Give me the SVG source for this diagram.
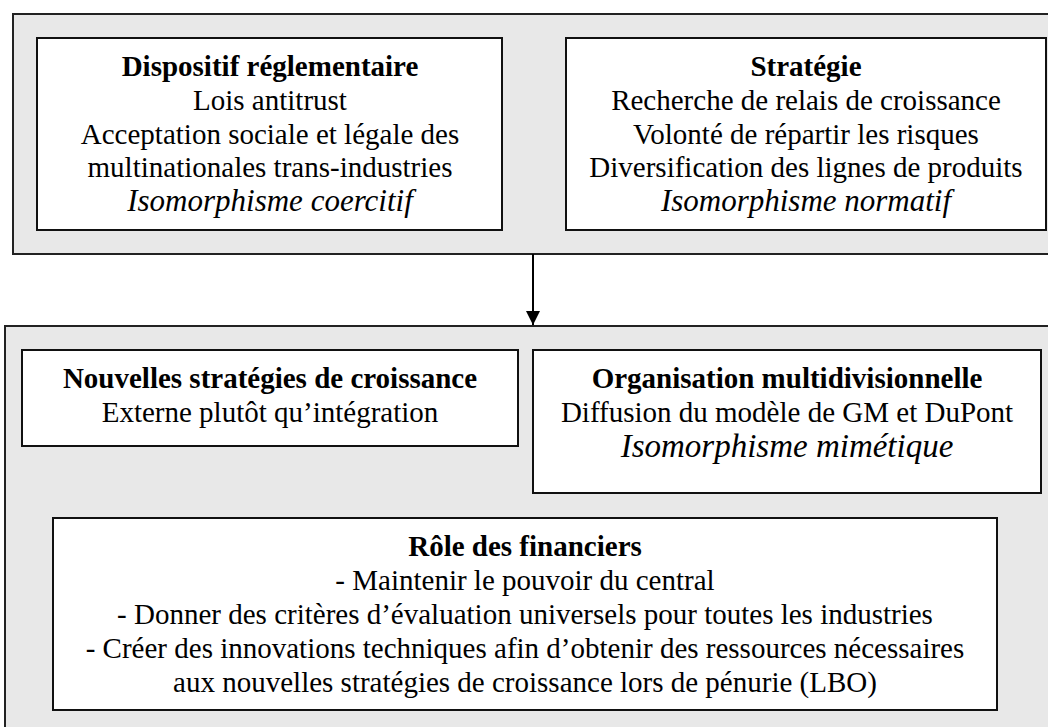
<svg xmlns="http://www.w3.org/2000/svg" width="1048" height="727" viewBox="0 0 1048 727">
<style>
.outer{fill:#e8e8e8;stroke:#222;stroke-width:2}
.box{fill:#fff;stroke:#111;stroke-width:2}
text{font-family:"Liberation Serif","Times New Roman",serif;font-size:29px;fill:#000;text-anchor:middle}
.b{font-weight:bold}
.i{font-style:italic;font-size:31px}
.ib{font-style:italic;font-size:33px}
.conn{stroke:#000;stroke-width:2;fill:none}
</style>
<defs>
<marker id="arr" markerWidth="14" markerHeight="14" refX="14" refY="7" orient="auto" markerUnits="userSpaceOnUse">
<path d="M0,0 L14,7 L0,14 Z" fill="#000"/>
</marker>
</defs>
<g id="top-group">
<rect class="outer" x="13" y="14" width="1045" height="240"/>
</g>
<g id="bottom-group">
<rect class="outer" x="5" y="326" width="1053" height="410"/>
</g>
<g id="dispositif">
<rect class="box" x="37" y="38" width="465" height="192"/>
<text x="270" y="76" class="b">Dispositif réglementaire</text>
<text x="270" y="110">Lois antitrust</text>
<text x="270" y="143.5">Acceptation sociale et légale des</text>
<text x="270" y="177">multinationales trans-industries</text>
<text x="270" y="211" class="i">Isomorphisme coercitif</text>
</g>
<g id="strategie">
<rect class="box" x="566" y="38" width="480" height="192"/>
<text x="806" y="76" class="b">Stratégie</text>
<text x="806" y="110">Recherche de relais de croissance</text>
<text x="806" y="143.5">Volonté de répartir les risques</text>
<text x="806" y="177">Diversification des lignes de produits</text>
<text x="806" y="211" class="i">Isomorphisme normatif</text>
</g>
<g id="connectors">
<line class="conn" x1="533" y1="254" x2="533" y2="325" marker-end="url(#arr)"/>
</g>
<g id="nouvelles">
<rect class="box" x="22" y="350" width="496" height="96"/>
<text x="270" y="388" class="b">Nouvelles stratégies de croissance</text>
<text x="270" y="422">Externe plutôt qu’intégration</text>
</g>
<g id="organisation">
<rect class="box" x="533" y="350" width="508" height="143"/>
<text x="787" y="388" class="b">Organisation multidivisionnelle</text>
<text x="787" y="422">Diffusion du modèle de GM et DuPont</text>
<text x="787" y="457" class="ib">Isomorphisme mimétique</text>
</g>
<g id="role">
<rect class="box" x="53" y="518" width="944" height="192"/>
<text x="525" y="556" class="b">Rôle des financiers</text>
<text x="525" y="590">- Maintenir le pouvoir du central</text>
<text x="525" y="624">- Donner des critères d’évaluation universels pour toutes les industries</text>
<text x="525" y="658">- Créer des innovations techniques afin d’obtenir des ressources nécessaires</text>
<text x="525" y="692">aux nouvelles stratégies de croissance lors de pénurie (LBO)</text>
</g>
</svg>
